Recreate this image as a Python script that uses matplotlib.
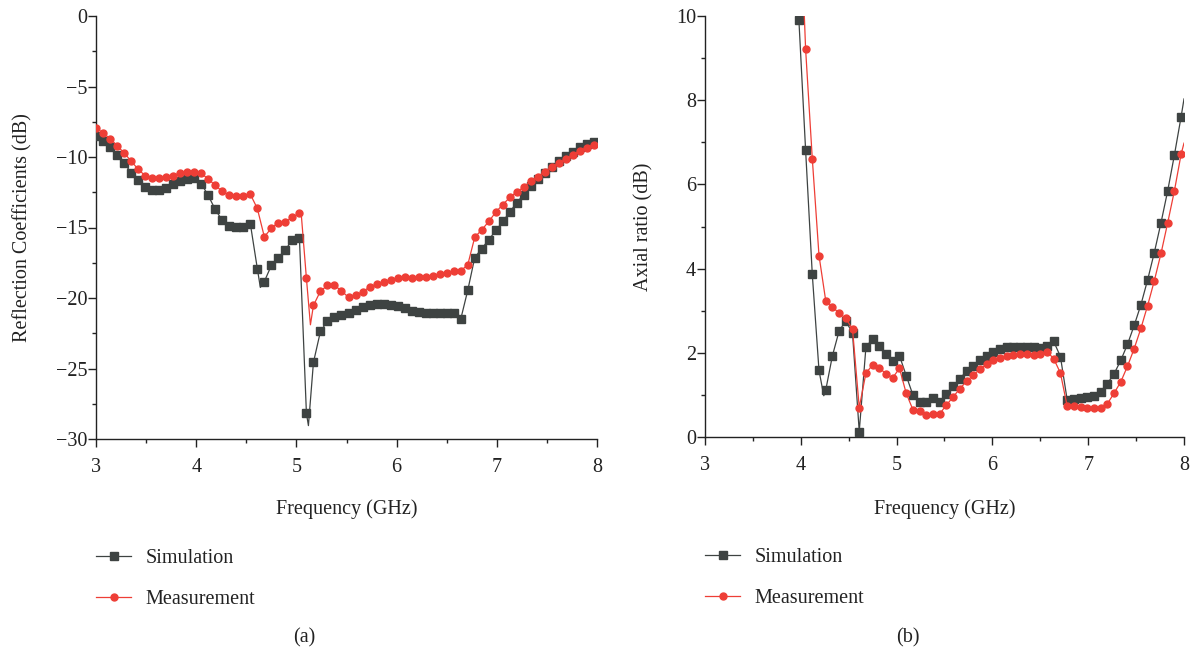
import numpy as np
import matplotlib
matplotlib.use("Agg")
import matplotlib.pyplot as plt
from matplotlib.lines import Line2D
from matplotlib.ticker import MultipleLocator

plt.rcParams['font.family'] = ['Liberation Serif', 'DejaVu Serif']
plt.rcParams['axes.unicode_minus'] = True

# ---------------- data ----------------
freq = [3.00, 3.07, 3.14, 3.21, 3.28, 3.35, 3.42, 3.49, 3.56, 3.63, 3.70, 3.77,
        3.84, 3.91, 3.98, 4.05, 4.12, 4.19, 4.26, 4.33, 4.40, 4.47, 4.54, 4.61,
        4.68, 4.75, 4.82, 4.89, 4.96, 5.03, 5.10, 5.17, 5.24, 5.31, 5.38, 5.45,
        5.52, 5.59, 5.66, 5.73, 5.80, 5.87, 5.94, 6.01, 6.08, 6.15, 6.22, 6.29,
        6.36, 6.43, 6.50, 6.57, 6.64, 6.71, 6.78, 6.85, 6.92, 6.99, 7.06, 7.13,
        7.20, 7.27, 7.34, 7.41, 7.48, 7.55, 7.62, 7.69, 7.76, 7.83, 7.90, 7.97]

s11_sim = [-8.50, -8.88, -9.26, -9.83, -10.42, -11.10, -11.65, -12.14, -12.33, -12.33,
           -12.19, -11.95, -11.69, -11.53, -11.50, -11.88, -12.73, -13.72, -14.50, -14.88,
           -14.95, -14.93, -14.72, -17.91, -18.83, -17.69, -17.13, -16.58, -15.87, -15.71,
           -28.18, -24.57, -22.37, -21.64, -21.33, -21.19, -21.07, -20.86, -20.62, -20.53,
           -20.46, -20.46, -20.48, -20.55, -20.72, -20.91, -21.00, -21.05, -21.05, -21.05,
           -21.05, -21.05, -21.50, -19.46, -17.13, -16.49, -15.87, -15.21, -14.57, -13.89,
           -13.23, -12.66, -12.09, -11.55, -11.10, -10.68, -10.30, -9.90, -9.61, -9.31,
           -9.09, -8.91]
s11_meas = [-7.91, -8.31, -8.69, -9.19, -9.71, -10.28, -10.87, -11.32, -11.50, -11.48,
            -11.41, -11.32, -11.13, -11.08, -11.08, -11.17, -11.55, -12.02, -12.43, -12.73,
            -12.78, -12.80, -12.64, -13.65, -15.66, -15.05, -14.65, -14.60, -14.27, -13.98,
            -18.61, -20.53, -19.51, -19.11, -19.11, -19.49, -19.96, -19.82, -19.56, -19.23,
            -19.02, -18.83, -18.71, -18.59, -18.54, -18.57, -18.54, -18.50, -18.45, -18.33,
            -18.24, -18.07, -18.07, -17.65, -15.69, -15.17, -14.57, -13.91, -13.37, -12.87,
            -12.47, -12.14, -11.69, -11.39, -11.03, -10.68, -10.44, -10.13, -9.87, -9.54,
            -9.33, -9.12]
# extra points on the connecting curves (dips / ends)
s11_sim_extra_f = [4.64, 5.12, 8.00]
s11_sim_extra_v = [-19.25, -29.05, -8.85]
s11_meas_extra_f = [5.05, 5.14, 8.00]
s11_meas_extra_v = [-14.20, -21.90, -9.00]

ar_sim = [9.91, 6.82, 3.86, 1.58, 1.11, 1.93, 2.52, 2.76, 2.46, 0.13,
          2.14, 2.33, 2.17, 1.98, 1.80, 1.93, 1.46, 1.00, 0.83, 0.83,
          0.92, 0.82, 1.02, 1.20, 1.38, 1.57, 1.68, 1.82, 1.92, 2.03,
          2.09, 2.13, 2.14, 2.14, 2.14, 2.13, 2.12, 2.15, 2.27, 1.91,
          0.89, 0.90, 0.92, 0.94, 0.97, 1.08, 1.27, 1.50, 1.82, 2.20,
          2.65, 3.14, 3.73, 4.38, 5.09, 5.85, 6.70, 7.61]
ar_meas = [9.22, 6.61, 4.31, 3.24, 3.09, 2.94, 2.82, 2.56, 0.70, 1.52,
           1.71, 1.65, 1.49, 1.41, 1.63, 1.04, 0.65, 0.62, 0.52, 0.55,
           0.55, 0.76, 0.95, 1.15, 1.32, 1.47, 1.61, 1.73, 1.82, 1.88,
           1.93, 1.95, 1.98, 1.98, 1.95, 1.98, 2.03, 1.86, 1.52, 0.74,
           0.74, 0.71, 0.70, 0.68, 0.70, 0.79, 1.04, 1.31, 1.68, 2.10,
           2.58, 3.12, 3.71, 4.36, 5.09, 5.85, 6.72]
ar_sim_extra_f = [4.24, 8.00]
ar_sim_extra_v = [0.98, 8.03]
ar_meas_extra_f = [4.02, 8.00]
ar_meas_extra_v = [11.00, 6.98]

freq_ar_sim = freq[14:]
freq_ar_meas = freq[15:]

labels = ["Simulation", "Measurement"]
captions = ["(a)", "(b)"]

# ---------------- style ----------------
C_SIM = "#3e4342"
C_MEAS = "#ee3e36"
FS = 14.5
W, H = 1194, 650

fig = plt.figure(figsize=(W / 100, H / 100), dpi=100)

def px_axes(l, t, r, b):
    return fig.add_axes([l / W, 1 - b / H, (r - l) / W, (b - t) / H])

axA = px_axes(96, 16, 597, 439)
axB = px_axes(705, 16, 1184, 437)


def merged(f, v, ef, ev):
    pts = sorted(zip(list(f) + list(ef), list(v) + list(ev)))
    return [p[0] for p in pts], [p[1] for p in pts]


def draw(ax, f_s, v_s, ef_s, ev_s, f_m, v_m, ef_m, ev_m):
    lx, ly = merged(f_s, v_s, ef_s, ev_s)
    ax.plot(lx, ly, color=C_SIM, lw=0.9, zorder=2)
    ax.plot(f_s, v_s, ls="none", marker="s", ms=5.8, color=C_SIM, mec=C_SIM, zorder=3)
    lx, ly = merged(f_m, v_m, ef_m, ev_m)
    ax.plot(lx, ly, color=C_MEAS, lw=0.9, zorder=4)
    ax.plot(f_m, v_m, ls="none", marker="o", ms=5.0, color=C_MEAS, mec=C_MEAS, zorder=5)


def style(ax):
    for s in ("top", "right"):
        ax.spines[s].set_visible(False)
    for s in ("left", "bottom"):
        ax.spines[s].set_linewidth(1.0)
        ax.spines[s].set_color("#222222")
    ax.set_xlim(3, 8)
    ax.xaxis.set_major_locator(MultipleLocator(1))
    ax.xaxis.set_minor_locator(MultipleLocator(0.5))
    ax.tick_params(axis="both", which="major", direction="out", length=5.5, width=1.0,
                   labelsize=FS, color="#222222", labelcolor="#222222")
    ax.tick_params(axis="both", which="minor", direction="out", length=3.0, width=1.0,
                   color="#222222")
    ax.tick_params(axis="x", which="major", pad=8.5)
    ax.tick_params(axis="y", which="major", pad=0.8)
    ax.set_xlabel("Frequency (GHz)", fontsize=FS, color="#222222")


draw(axA, freq, s11_sim, s11_sim_extra_f, s11_sim_extra_v,
     freq, s11_meas, s11_meas_extra_f, s11_meas_extra_v)
style(axA)
axA.set_ylim(-30, 0)
axA.yaxis.set_major_locator(MultipleLocator(5))
axA.yaxis.set_minor_locator(MultipleLocator(2.5))
axA.set_ylabel("Reflection Coefficients (dB)", fontsize=FS, color="#222222")
axA.yaxis.set_label_coords(32 / W, 1 - 228 / H, transform=fig.transFigure)
axA.xaxis.set_label_coords(346.5 / W, 1 - 499 / H, transform=fig.transFigure)

draw(axB, freq_ar_sim, ar_sim, ar_sim_extra_f, ar_sim_extra_v,
     freq_ar_meas, ar_meas, ar_meas_extra_f, ar_meas_extra_v)
style(axB)
axB.set_ylim(0, 10)
axB.yaxis.set_major_locator(MultipleLocator(2))
axB.yaxis.set_minor_locator(MultipleLocator(1))
axB.set_ylabel("Axial ratio (dB)", fontsize=FS, color="#222222")
axB.yaxis.set_label_coords(653 / W, 1 - 227 / H, transform=fig.transFigure)
axB.xaxis.set_label_coords(944.5 / W, 1 - 499 / H, transform=fig.transFigure)

# legends
handles = [Line2D([], [], color=C_SIM, lw=0.9, marker="s", ms=5.8),
           Line2D([], [], color=C_MEAS, lw=0.9, marker="o", ms=5.0)]
for x0, y0 in ((96, 549), (705, 548)):
    fig.legend(handles, labels, loc="upper left",
               bbox_to_anchor=(x0 / W, 1 - y0 / H), frameon=False,
               fontsize=FS, handlelength=1.75, handletextpad=0.7,
               labelspacing=1.1, borderpad=0, borderaxespad=0,
               labelcolor="#222222")

fig.text(304 / W, 1 - 638 / H, captions[0], ha="center", va="center", fontsize=FS, color="#222222")
fig.text(908 / W, 1 - 638 / H, captions[1], ha="center", va="center", fontsize=FS, color="#222222")

fig.savefig("out.png", dpi=100)
